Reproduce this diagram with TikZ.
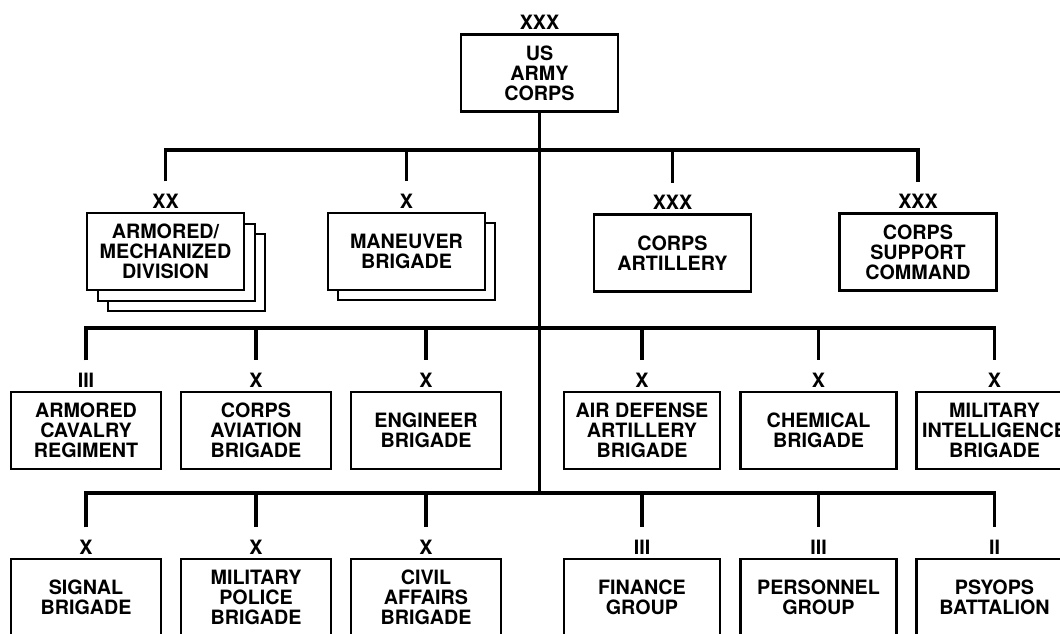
\documentclass[tikz,border=0pt]{standalone}
\usepackage{fontspec}
\setmainfont{TeX Gyre Heros}
\usetikzlibrary{positioning,shadows}
\tikzset{
  unit/.style={draw, line width=1.7pt, fill=white, minimum width=117.75pt,
    minimum height=57.75pt, inner sep=0pt, align=center,
    font=\bfseries\fontsize{14.8}{15}\selectfont},
  echelon/.style={inner sep=0pt, font=\bfseries\fontsize{14.8}{15}\selectfont},
  bus/.style={line width=2.6pt},
  drop/.style={bus, shorten >=9pt}
}
\begin{document}
\begin{tikzpicture}[x=0.75pt,y=-0.75pt]
	\path[use as bounding box, clip] (0,0) rectangle (1060,633);
	\fill[white] (0,0) rectangle (1060,633);
	\coordinate (busA) at (0,150);
	\coordinate (busB) at (0,328);
	\coordinate (busC) at (0,493);
	% corps
	\node[unit] (corps) at (539.5,73) {US\\ARMY\\CORPS};
	\node[echelon, above=2.6pt of corps] (corps-e) {XXX};
	\draw[bus] (corps) -- (corps.south |- busC);
	% first row
	\node[unit, double copy shadow={shadow xshift=8pt, shadow yshift=-8pt}] (div) at (165.5,251.5) {ARMORED/\\MECHANIZED\\DIVISION};
	\node[unit, copy shadow={shadow xshift=7.5pt, shadow yshift=-7.5pt}] (mnv) at (406.5,251.5) {MANEUVER\\BRIGADE};
	\node[unit] (arty) at (672.5,253) {CORPS\\ARTILLERY};
	\node[unit] (spt) at (918,252) {CORPS\\SUPPORT\\COMMAND};
	\node[echelon, above=2.6pt of div] (div-e) {XX};
	\node[echelon, above=2.6pt of mnv] (mnv-e) {X};
	\node[echelon, above=2.6pt of arty] (arty-e) {XXX};
	\node[echelon, above=2.6pt of spt] (spt-e) {XXX};
	\draw[drop, shorten <=9pt] (div-e.north) |- (spt-e.north |- busA) -- (spt-e.north);
	\foreach \n in {mnv,arty} \draw[drop] (\n-e.north |- busA) -- (\n-e.north);
	% second row
	\foreach \n/\x/\w/\ech/\txt in {
		acr/86/112.5pt/III/{ARMORED\\CAVALRY\\REGIMENT},
		avn/256/112.5pt/X/{CORPS\\AVIATION\\BRIGADE},
		eng/426/112.5pt/X/{ENGINEER\\BRIGADE},
		ada/642/117pt/X/{AIR DEFENSE\\ARTILLERY\\BRIGADE},
		chem/818.5/117pt/X/{CHEMICAL\\BRIGADE},
		mi/994.5/117pt/X/{MILITARY\\INTELLIGENCE\\BRIGADE}} {
		\node[unit, minimum width=\w] (\n) at (\x,430.5) {\txt};
		\node[echelon, above=2.6pt of \n] (\n-e) {\ech};
	}
	\draw[drop, shorten <=9pt] (acr-e.north) |- (mi-e.north |- busB) -- (mi-e.north);
	\foreach \n in {avn,eng,ada,chem} \draw[drop] (\n-e.north |- busB) -- (\n-e.north);
	% third row
	\foreach \n/\x/\w/\ech/\txt in {
		sig/86/112.5pt/X/{SIGNAL\\BRIGADE},
		mp/256/112.5pt/X/{MILITARY\\POLICE\\BRIGADE},
		ca/426/112.5pt/X/{CIVIL\\AFFAIRS\\BRIGADE},
		fin/642/117pt/III/{FINANCE\\GROUP},
		pers/818.5/117pt/III/{PERSONNEL\\GROUP},
		psyop/994.5/117pt/II/{PSYOPS\\BATTALION}} {
		\node[unit, minimum width=\w] (\n) at (\x,597.5) {\txt};
		\node[echelon, above=2.6pt of \n] (\n-e) {\ech};
	}
	\draw[drop, shorten <=9pt] (sig-e.north) |- (psyop-e.north |- busC) -- (psyop-e.north);
	\foreach \n in {mp,ca,fin,pers} \draw[drop] (\n-e.north |- busC) -- (\n-e.north);
\end{tikzpicture}
\end{document}
